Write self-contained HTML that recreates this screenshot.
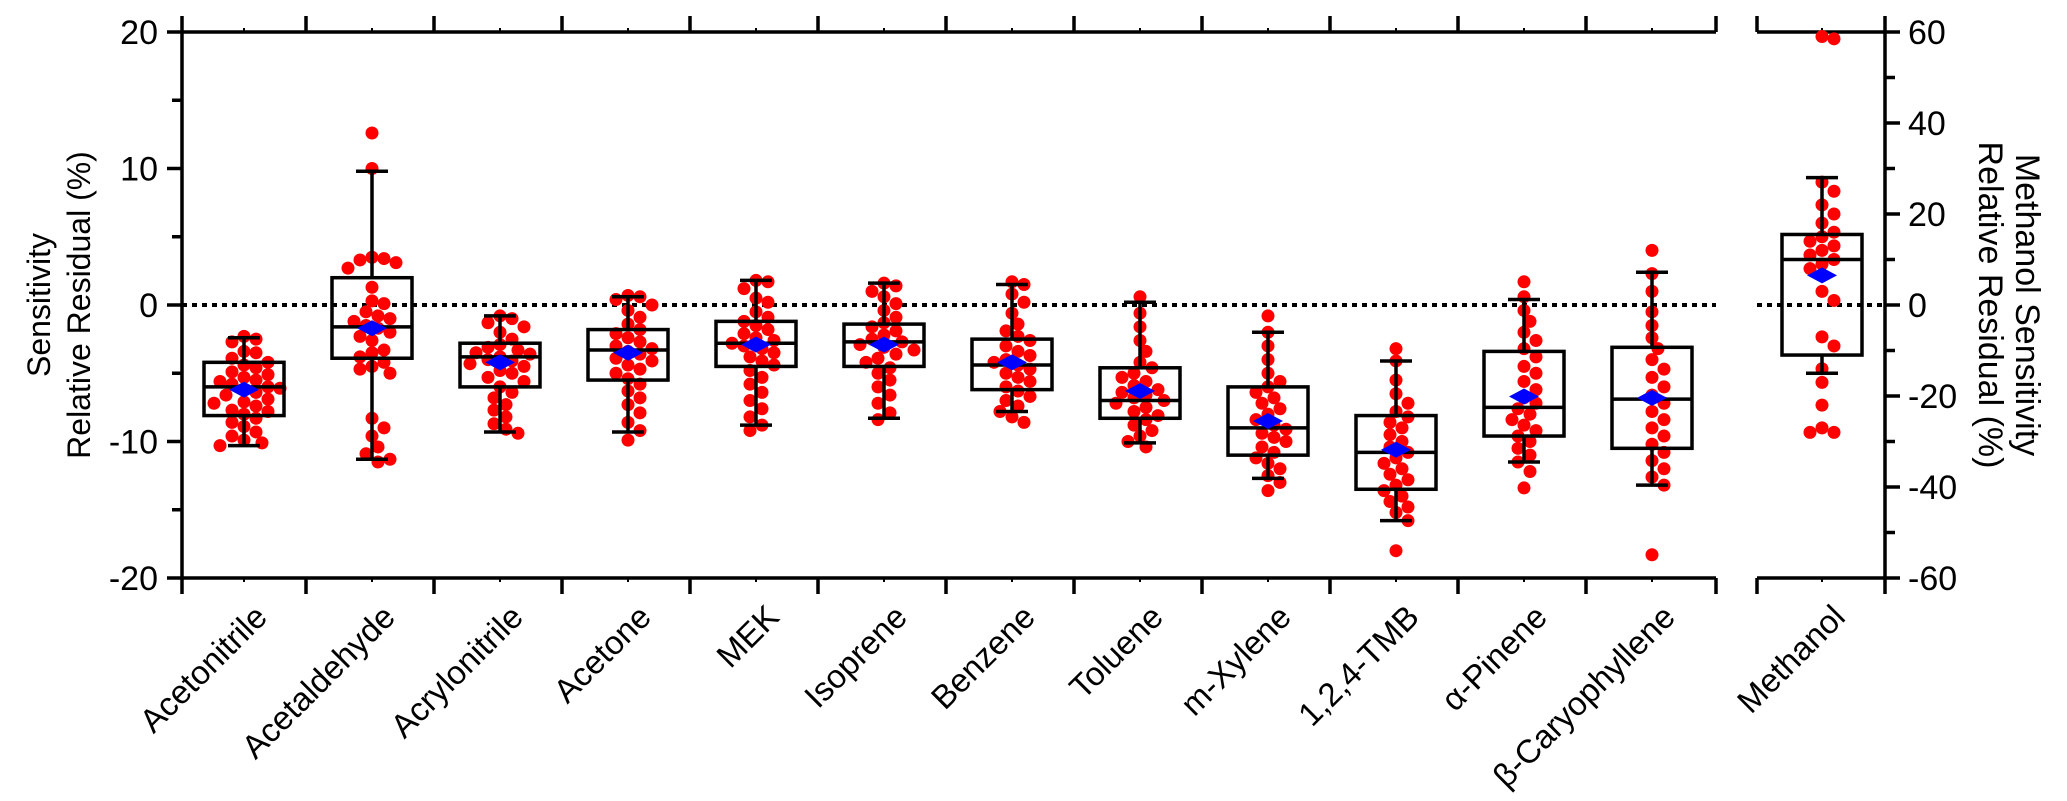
<!DOCTYPE html>
<html><head><meta charset="utf-8"><style>
html,body{margin:0;padding:0;background:#fff}
svg{display:block;font-family:"Liberation Sans",Arial,sans-serif}
</style></head><body>
<svg id="chart" width="2067" height="801" viewBox="0 0 2067 801" xmlns="http://www.w3.org/2000/svg">
<g id="axes"></g>
<g id="marks"></g>
<text transform="translate(39,305) rotate(-90)" text-anchor="middle" dominant-baseline="central" font-size="32">Sensitivity</text>
<text transform="translate(79,305) rotate(-90)" text-anchor="middle" dominant-baseline="central" font-size="32">Relative Residual (%)</text>
<text transform="translate(2027,305) rotate(90)" text-anchor="middle" dominant-baseline="central" font-size="34">Methanol Sensitivity</text>
<text transform="translate(1990,305) rotate(90)" text-anchor="middle" dominant-baseline="central" font-size="34">Relative Residual (%)</text>
</svg>
<script>
const categories = ["Acetonitrile","Acetaldehyde","Acrylonitrile","Acetone","MEK","Isoprene","Benzene","Toluene","m-Xylene","1,2,4-TMB","α-Pinene","β-Caryophyllene","Methanol"];
const whiskerHigh = [-2.4,9.8,-0.8,0.6,1.8,1.6,1.5,0.2,-2.0,-4.1,0.4,2.4,28];
const q3 = [-4.2,2.0,-2.8,-1.8,-1.2,-1.4,-2.5,-4.6,-6.0,-8.1,-3.4,-3.1,15.5];
const medians = [-6.0,-1.6,-3.8,-3.3,-2.8,-2.7,-4.4,-7.0,-9.0,-10.8,-7.5,-6.9,10];
const q1 = [-8.1,-3.9,-6.0,-5.5,-4.5,-4.5,-6.2,-8.3,-11.0,-13.5,-9.6,-10.5,-11];
const whiskerLow = [-10.3,-11.3,-9.3,-9.3,-8.8,-8.3,-7.8,-10.1,-12.7,-15.8,-11.5,-13.2,-15];
const means = [-6.2,-1.7,-4.2,-3.5,-2.9,-2.9,-4.2,-6.3,-8.5,-10.6,-6.7,-6.8,6.5];
const pts0 = [-2.3,-2.5,-2.7,-3.4,-3.5,-3.9,-4.2,-4.4,-4.6,-4.9,-5.1,-5.3,-5.5,-5.6,-5.8,-6.0,-6.1,-6.2,-6.4,-6.6,-6.9,-7.1,-7.2,-7.4,-7.7,-7.8,-8.0,-8.3,-8.6,-8.9,-9.3,-9.6,-9.9,-10.1,-10.3];
const pts1 = [12.6,10.0,3.5,3.4,3.3,3.1,2.7,1.3,0.3,0.1,-0.5,-0.8,-1.0,-1.2,-1.5,-1.7,-2.0,-2.3,-2.6,-3.3,-3.5,-3.8,-4.2,-4.5,-4.7,-5.0,-8.3,-9.0,-9.6,-10.4,-10.9,-11.5,-11.3];
const pts2 = [-0.8,-1.0,-1.3,-1.6,-2.0,-2.5,-2.9,-3.1,-3.3,-3.5,-3.6,-3.8,-4.0,-4.1,-4.3,-4.5,-4.8,-5.0,-5.3,-5.6,-6.0,-6.4,-6.8,-7.3,-7.7,-8.2,-8.7,-9.1,-9.4];
const pts3 = [0.7,0.6,0.4,0,-0.4,-0.9,-1.4,-1.8,-2.1,-2.4,-2.7,-3.0,-3.2,-3.4,-3.6,-3.9,-4.1,-4.4,-4.7,-5.0,-5.4,-5.8,-6.3,-6.8,-7.3,-7.9,-8.6,-9.2,-9.9];
const pts4 = [1.8,1.7,1.2,0.5,0.2,-0.5,-0.9,-1.2,-1.5,-1.8,-2.1,-2.4,-2.6,-2.8,-3.0,-3.2,-3.5,-3.8,-4.1,-4.4,-4.8,-5.3,-5.8,-6.4,-7.0,-7.6,-8.2,-8.8,-9.2];
const pts5 = [1.6,1.4,1.0,0.6,0.1,-0.4,-0.9,-1.3,-1.6,-1.9,-2.2,-2.5,-2.7,-2.9,-3.1,-3.3,-3.6,-3.9,-4.2,-4.6,-5.0,-5.5,-6.0,-6.6,-7.2,-7.9,-8.4];
const pts6 = [1.7,1.5,0.8,0.2,-0.6,-1.4,-1.9,-2.3,-2.6,-3.0,-3.4,-3.7,-4.0,-4.2,-4.4,-4.7,-5.0,-5.3,-5.6,-6.0,-6.3,-6.7,-7.0,-7.4,-7.8,-8.2,-8.6];
const pts7 = [0.6,-0.6,-1.6,-2.6,-3.4,-4.2,-4.6,-5.0,-5.3,-5.6,-5.9,-6.2,-6.4,-6.6,-6.8,-7.0,-7.2,-7.5,-7.8,-8.1,-8.4,-8.8,-9.2,-9.6,-10.0,-10.4];
const pts8 = [-0.8,-2.0,-3.0,-4.0,-5.0,-5.6,-6.0,-6.4,-6.8,-7.2,-7.6,-8.0,-8.4,-8.8,-9.1,-9.4,-9.7,-10.0,-10.4,-10.8,-11.2,-11.6,-12.0,-12.5,-13.0,-13.6];
const pts9 = [-3.2,-4.1,-5.5,-6.5,-7.2,-7.8,-8.2,-8.6,-9.0,-9.5,-10.0,-10.4,-10.8,-11.2,-11.6,-12.0,-12.4,-12.8,-13.2,-13.6,-14.0,-14.4,-14.8,-15.2,-15.8,-18.0];
const pts10 = [1.7,0.6,-0.4,-1.2,-2.0,-2.6,-3.2,-3.8,-4.5,-5.0,-5.6,-6.2,-6.8,-7.2,-7.6,-8.0,-8.4,-8.8,-9.2,-9.6,-10.0,-10.5,-11.0,-11.5,-12.2,-13.4];
const pts11 = [4.0,2.3,1.0,-0.5,-1.5,-2.4,-3.2,-4.0,-4.7,-5.3,-6.0,-6.6,-7.2,-7.8,-8.4,-9.0,-9.6,-10.2,-10.8,-11.4,-12.0,-12.6,-13.2,-18.3];
const pts12 = [59,58.5,27,25,22,20,18,16,15,14,13,12,11,10,9,8,3,1,-7,-9,-14,-17,-22,-27,-28,-28];
const leftTicks = [20,10,0,-10,-20];
const leftMinor = [15,5,-5,-15];
const rightTicks = [60,40,20,0,-20,-40,-60];
const rightMinor = [50,30,10,-10,-30,-50];

const NS="http://www.w3.org/2000/svg";
const axes=document.getElementById('axes'), marks=document.getElementById('marks');
const TOP=32, BOT=578, ZERO=305;
const yL=v=>ZERO-v*(BOT-TOP)/40;
const yR=v=>ZERO-v*(BOT-TOP)/120;
const xC=i=>i<12?244+128*i:1822;
function mk(p,tag,attrs){const e=document.createElementNS(NS,tag);for(const k in attrs)e.setAttribute(k,attrs[k]);p.appendChild(e);return e;}
const LW=3.5;
function line(p,x1,y1,x2,y2,w){return mk(p,'line',{x1,y1,x2,y2,stroke:'#000','stroke-width':w||LW});}
let e;
e=line(axes,182,TOP,1716,TOP);
e=line(axes,182,BOT,1716,BOT);
e=line(axes,182,16,182,594);
e=line(axes,1757,TOP,1885,TOP);
e=line(axes,1757,BOT,1885,BOT);
e=line(axes,1885,16,1885,594);
for(let k=1;k<=12;k++){const x=k<12?182+128*k-4:1716;line(axes,x,16,x,TOP);line(axes,x,BOT,x,594);}
line(axes,1757,16,1757,TOP);line(axes,1757,BOT,1757,594);
for(let i=0;i<13;i++){line(axes,xC(i),TOP,xC(i),TOP-4,2);line(axes,xC(i),BOT,xC(i),BOT+4,2);}
e=mk(axes,'line',{x1:182,y1:ZERO,x2:1716,y2:ZERO,stroke:'#000','stroke-width':4,'stroke-dasharray':'5,5'});

e=mk(axes,'line',{x1:1757,y1:ZERO,x2:1885,y2:ZERO,stroke:'#000','stroke-width':4,'stroke-dasharray':'5,5'});

leftTicks.forEach(v=>{line(axes,167,yL(v),182,yL(v));
 const t=mk(axes,'text',{x:158,y:yL(v)+12,'text-anchor':'end','font-size':34});t.textContent=v;
 });
leftMinor.forEach(v=>line(axes,172,yL(v),182,yL(v)));
rightTicks.forEach(v=>{line(axes,1885,yR(v),1900,yR(v));
 const t=mk(axes,'text',{x:1908,y:yR(v)+12,'text-anchor':'start','font-size':34});t.textContent=v;
 });
rightMinor.forEach(v=>line(axes,1885,yR(v),1895,yR(v)));
categories.forEach((c,i)=>{const x=xC(i)+8,y=602;
 const t=mk(axes,'text',{x:0,y:0,'text-anchor':'end','font-size':33,transform:`translate(${x},${y}) rotate(-45)`,'dominant-baseline':'hanging'});
 t.textContent=c;
 });
const allPts=[pts0,pts1,pts2,pts3,pts4,pts5,pts6,pts7,pts8,pts9,pts10,pts11,pts12];
const R=6.5;
for(let i=0;i<13;i++){
 const sc=i<12?yL:yR, cx=xC(i);
 const g=mk(marks,'g',{});
 
 
 const placed=[];
 allPts[i].forEach(v=>{const y=sc(v);let off=0;
  for(let s=0;s<40;s++){const cand=s===0?0:(s%2?1:-1)*Math.ceil(s/2)*6;
   if(placed.every(p=>Math.hypot(p[0]-(cx+cand),p[1]-y)>=2*R-1)){off=cand;break;}}
  placed.push([cx+off,y]);
  const c=mk(g,'circle',{cx:cx+off,cy:y,r:R,fill:'#ff0000'});
  });
 line(g,cx,sc(whiskerHigh[i]),cx,sc(q3[i]));
 line(g,cx,sc(q1[i]),cx,sc(whiskerLow[i]));
 line(g,cx-16,sc(whiskerHigh[i]),cx+16,sc(whiskerHigh[i]));
 line(g,cx-16,sc(whiskerLow[i]),cx+16,sc(whiskerLow[i]));
 const b=mk(g,'rect',{x:cx-40,y:sc(q3[i]),width:80,height:sc(q1[i])-sc(q3[i]),fill:'none',stroke:'#000','stroke-width':LW});
 
 line(g,cx-40,sc(medians[i]),cx+40,sc(medians[i]));
 const my=sc(means[i]);
 const d=mk(g,'polygon',{points:`${cx-15},${my} ${cx},${my-8} ${cx+15},${my} ${cx},${my+8}`,fill:'#0000ff'});
 
}
</script>
</body></html>
